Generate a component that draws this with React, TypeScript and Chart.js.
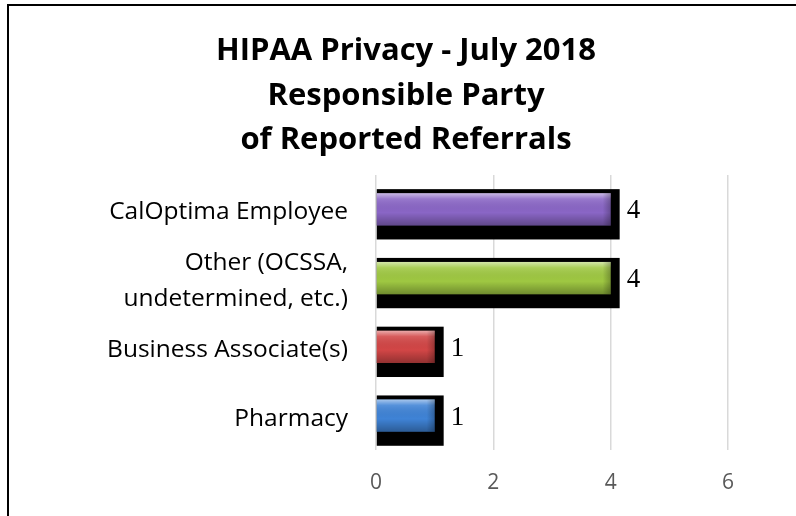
import React, { useEffect, useRef } from "react";
import { Chart, registerables } from "chart.js";

Chart.register(...registerables);

const categories: (string | string[])[] = [
  "CalOptima Employee",
  ["Other (OCSSA,", "undetermined, etc.)"],
  "Business Associate(s)",
  "Pharmacy",
];
const counts: number[] = [4, 4, 1, 1];
const barColors: string[] = ["#8a66c6", "#9fc842", "#d24646", "#3f83d6"];
const titleLines: string[] = [
  "HIPAA Privacy - July 2018",
  "Responsible Party",
  "of Reported Referrals",
];
const xMin = 0;
const xMax = 6;
const xStep = 2;

const bevelPlugin = {
  id: "bevel",
  beforeDatasetsDraw(chart: any) {
    const ctx = chart.ctx;
    const meta = chart.getDatasetMeta(0);
    ctx.save();
    ctx.fillStyle = "#000000";
    meta.data.forEach((el: any) => {
      const h = el.height;
      const top = el.y - h / 2 - 4;
      const bottom = el.y + h / 2 + 14;
      ctx.fillRect(el.base, top, el.x - el.base + 9, bottom - top);
    });
    ctx.restore();
  },
  afterDatasetsDraw(chart: any) {
    const ctx = chart.ctx;
    const meta = chart.getDatasetMeta(0);
    ctx.save();
    meta.data.forEach((el: any, i: number) => {
      const h = el.height;
      const top = el.y - h / 2;
      const left = el.base;
      const w = el.x - el.base;
      const g = ctx.createLinearGradient(0, top, 0, top + h);
      g.addColorStop(0, "rgba(255,255,255,0.55)");
      g.addColorStop(0.18, "rgba(255,255,255,0.12)");
      g.addColorStop(0.6, "rgba(0,0,0,0.0)");
      g.addColorStop(1, "rgba(0,0,0,0.3)");
      ctx.fillStyle = g;
      ctx.fillRect(left, top, w, h);
      const g2 = ctx.createLinearGradient(el.x - 8, 0, el.x, 0);
      g2.addColorStop(0, "rgba(0,0,0,0)");
      g2.addColorStop(1, "rgba(0,0,0,0.25)");
      ctx.fillStyle = g2;
      ctx.fillRect(el.x - 8, top, 8, h);
      ctx.fillStyle = "#000000";
      ctx.font = "27px 'Liberation Serif', 'Times New Roman', serif";
      ctx.textAlign = "left";
      ctx.textBaseline = "middle";
      ctx.fillText(String(counts[i]), el.x + 16, el.y + 2);
    });
    ctx.restore();
  },
};

export default function App() {
  const canvasRef = useRef<HTMLCanvasElement | null>(null);

  useEffect(() => {
    if (!canvasRef.current) return;
    const chart = new Chart(canvasRef.current, {
      type: "bar",
      data: {
        labels: categories,
        datasets: [
          {
            data: counts,
            backgroundColor: barColors,
            borderWidth: 0,
            barPercentage: 0.47,
            categoryPercentage: 1,
          },
        ],
      },
      options: {
        indexAxis: "y",
        responsive: false,
        animation: false,
        devicePixelRatio: 1,
        layout: { padding: { left: 84, right: 68, top: 0, bottom: 0 } },
        plugins: {
          legend: { display: false },
          tooltip: { enabled: false },
          title: {
            display: true,
            text: titleLines,
            color: "#000000",
            font: { family: "'Open Sans'", size: 31, weight: "bold", lineHeight: 1.44 },
            padding: { top: 29, bottom: 12 },
          },
        },
        scales: {
          x: {
            min: xMin,
            max: xMax,
            ticks: {
              stepSize: xStep,
              color: "#595959",
              font: { family: "'Open Sans'", size: 21 },
              padding: 20,
            },
            grid: { color: "#d9d9d9", lineWidth: 1.5, drawTicks: false },
            border: { display: false },
            afterFit: (s: any) => {
              s.height = 66;
            },
          },
          y: {
            ticks: {
              autoSkip: false,
              color: "#000000",
              font: { family: "'Open Sans'", size: 24.5, lineHeight: 1.45 },
              padding: 28,
              labelOffset: 3,
            },
            grid: { display: false, drawTicks: false },
            border: { display: false },
            afterFit: (s: any) => {
              s.width = 292;
            },
          },
        },
      },
      plugins: [bevelPlugin],
    });
    return () => chart.destroy();
  }, []);

  return (
    <div
      style={{
        position: "fixed",
        left: 0,
        top: 0,
        width: 796,
        height: 516,
        overflow: "hidden",
        background: "#ffffff",
      }}
    >
      <div
        style={{
          position: "absolute",
          left: 7,
          top: 4,
          width: 820,
          height: 540,
          borderTop: "2px solid #000",
          borderLeft: "2px solid #000",
        }}
      />
      <canvas
        ref={canvasRef}
        width={796}
        height={516}
        style={{ position: "absolute", left: 0, top: 0, width: 796, height: 516 }}
      />
    </div>
  );
}
